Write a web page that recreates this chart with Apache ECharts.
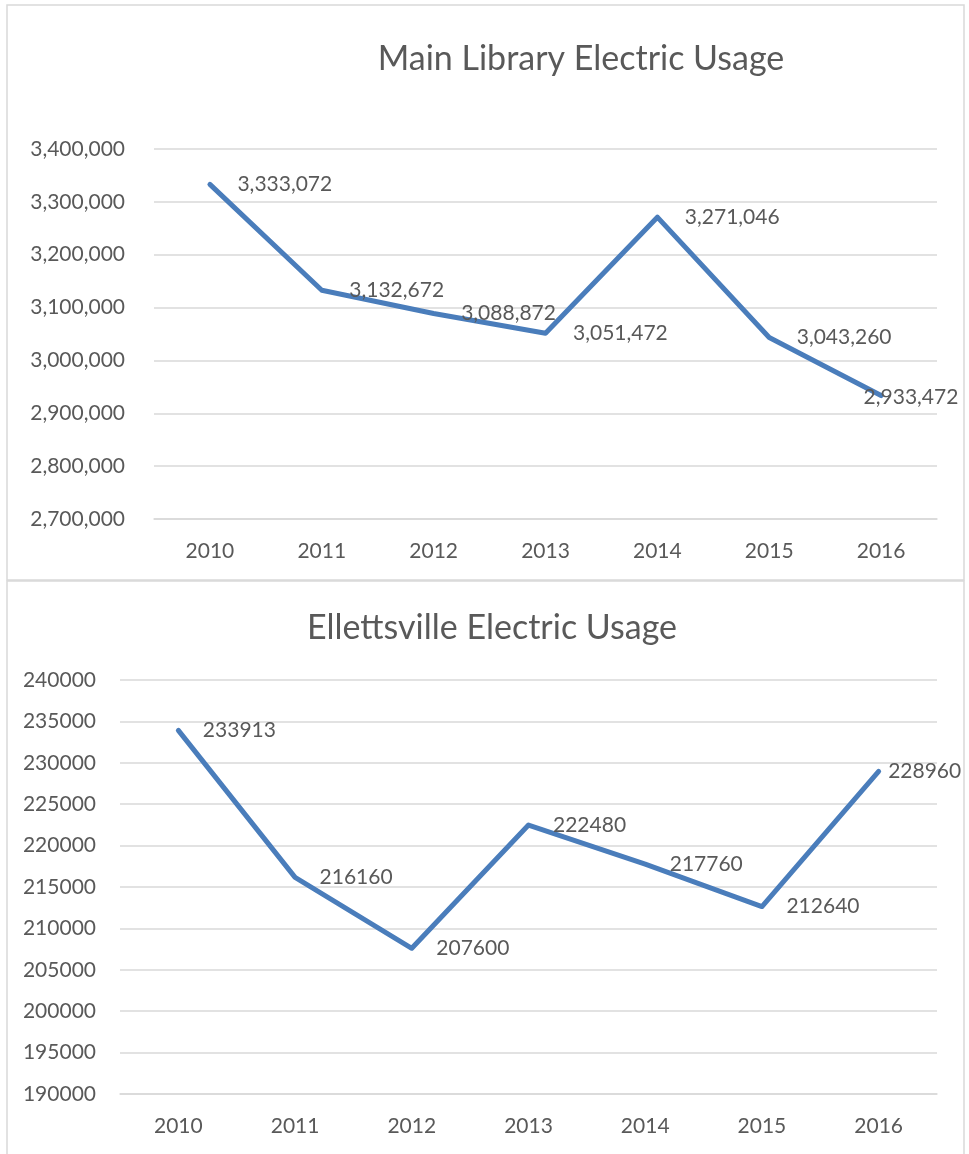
<!DOCTYPE html>
<html><head><meta charset="utf-8">
<script src="https://cdn.jsdelivr.net/npm/echarts@6/dist/echarts.min.js"></script>
<style>html,body{margin:0;padding:0;background:#fff}#c{width:969px;height:1154px}</style>
</head><body><div id="c"></div>
<script>
const years = ['2010','2011','2012','2013','2014','2015','2016'];
const mainTitle = 'Main Library Electric Usage';
const mainUsage = [3333072, 3132672, 3088872, 3051472, 3271046, 3043260, 2933472];
const ellTitle = 'Ellettsville Electric Usage';
const ellUsage = [233913, 216160, 207600, 222480, 217760, 212640, 228960];

const FONT = 'Lato';
const TXT = '#595959';
const GRID = '#d9d9d9';
const LINE = '#4a7dbb';
const FS = 21;
const fmt = v => v.toLocaleString('en-US');

function seriesData(vals, lastOffset) {
  return vals.map((v, i) => i === vals.length - 1
    ? { value: v, label: { offset: lastOffset } }
    : v);
}

const chart = echarts.init(document.getElementById('c'), null, { renderer: 'canvas' });
const axisY = (gi, min, max, interval, formatter, margin) => ({
  type: 'value', gridIndex: gi, min, max, interval,
  axisLine: { show: false }, axisTick: { show: false },
  splitLine: { lineStyle: { color: GRID, width: 1.5 } },
  axisLabel: { color: TXT, fontFamily: FONT, fontSize: FS, formatter, margin }
});
const axisX = (gi) => ({
  type: 'category', data: years, gridIndex: gi, boundaryGap: true,
  axisLine: { show: true, lineStyle: { color: GRID, width: 1.5 } },
  axisTick: { show: false },
  axisLabel: { color: TXT, fontFamily: FONT, fontSize: FS, margin: 22 }
});
const lbl = (formatter, dist) => ({
  show: true, position: 'right', distance: dist, color: TXT,
  fontFamily: FONT, fontSize: FS, formatter
});

chart.setOption({
  animation: false,
  graphic: [
    { type: 'rect', shape: { x: 7, y: 5, width: 957, height: 575 }, style: { fill: 'none', stroke: GRID, lineWidth: 1.5 } },
    { type: 'rect', shape: { x: 7, y: 581, width: 957, height: 600 }, style: { fill: 'none', stroke: GRID, lineWidth: 1.5 } }
  ],
  title: [
    { text: mainTitle, left: 576, top: 54, textAlign: 'center', textVerticalAlign: 'middle',
      textStyle: { color: TXT, fontFamily: FONT, fontSize: 34, fontWeight: 'normal' } },
    { text: ellTitle, left: 487, top: 623, textAlign: 'center', textVerticalAlign: 'middle',
      textStyle: { color: TXT, fontFamily: FONT, fontSize: 34, fontWeight: 'normal' } }
  ],
  grid: [
    { left: 154, right: 32, top: 149, height: 370 },
    { left: 120, right: 32, top: 680, height: 414 }
  ],
  xAxis: [axisX(0), axisX(1)],
  yAxis: [
    axisY(0, 2700000, 3400000, 100000, v => fmt(v), 29),
    axisY(1, 190000, 240000, 5000, v => String(v), 24)
  ],
  series: [
    { type: 'line', xAxisIndex: 0, yAxisIndex: 0, data: seriesData(mainUsage, [-45, 2]),
      symbol: 'circle', symbolSize: 1, showSymbol: true,
      lineStyle: { color: LINE, width: 5, cap: 'round', join: 'round' }, itemStyle: { color: LINE },
      label: lbl(p => fmt(p.value), 27) },
    { type: 'line', xAxisIndex: 1, yAxisIndex: 1, data: seriesData(ellUsage, [-15, 0]),
      symbol: 'circle', symbolSize: 1, showSymbol: true,
      lineStyle: { color: LINE, width: 5, cap: 'round', join: 'round' }, itemStyle: { color: LINE },
      label: lbl(p => String(p.value), 24) }
  ]
});
</script></body></html>
